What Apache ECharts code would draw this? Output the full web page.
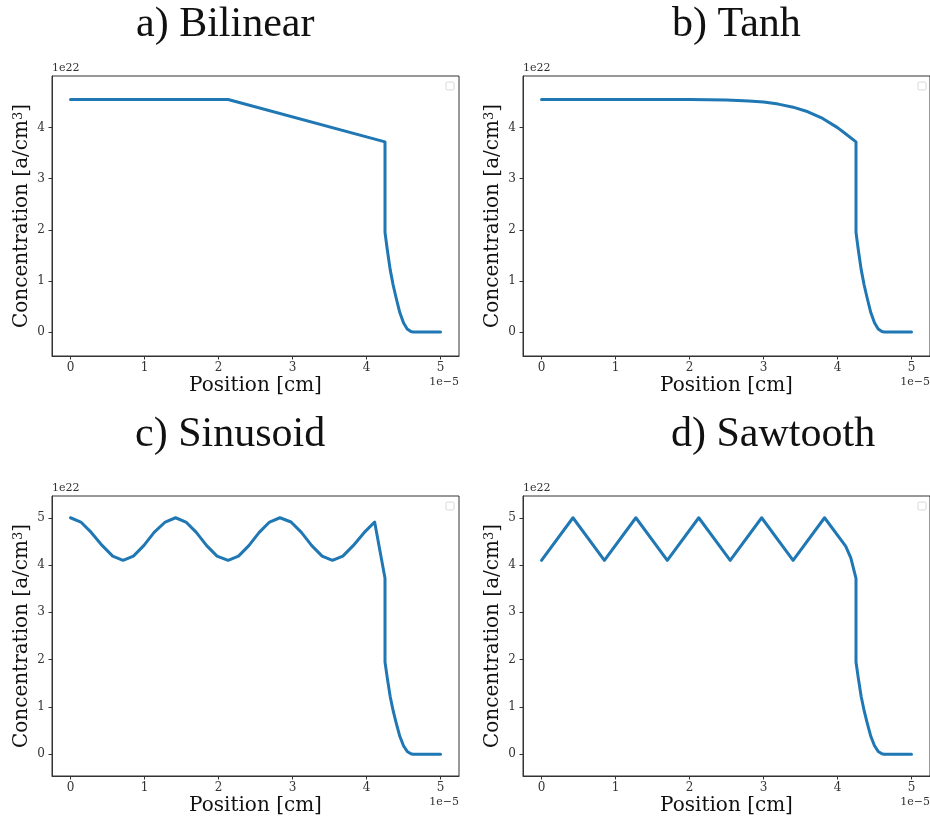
<!DOCTYPE html>
<html>
<head>
<meta charset="utf-8">
<script src="https://cdn.jsdelivr.net/npm/echarts@6/dist/echarts.min.js"></script>
<style>
html,body{margin:0;padding:0;background:#fff;}
#chart{width:930px;height:820px;}
</style>
</head>
<body>
<div id="chart"></div>
<script>
// ---- data (x in units of 1e-5 cm, y in units of 1e22 a/cm^3) ----
const panelTitles = ['a) Bilinear', 'b) Tanh', 'c) Sinusoid', 'd) Sawtooth'];
const xTickLabels = [0, 1, 2, 3, 4, 5];
const yTicksTop = [0, 1, 2, 3, 4];
const yTicksBottom = [0, 1, 2, 3, 4, 5];

// shared diffusion tail after the step at x = 4.25
const tailX = [4.25, 4.25, 4.28, 4.32, 4.36, 4.40, 4.45, 4.50, 4.55, 4.60, 4.63, 5.00];
const tailY = [3.72, 1.95, 1.62, 1.22, 0.92, 0.67, 0.38, 0.18, 0.06, 0.01, 0.00, 0.00];

const bilinearX = [0, 2.13];
const bilinearY = [4.55, 4.55];

const tanhX = [0, 2.0, 2.5, 2.8, 3.0, 3.2, 3.4, 3.6, 3.8, 4.0, 4.1];
const tanhY = [4.55, 4.55, 4.54, 4.52, 4.50, 4.46, 4.40, 4.31, 4.18, 4.00, 3.89];

const sinusoidX = [0, 0.14, 0.28, 0.43, 0.57, 0.71, 0.85, 0.99, 1.13, 1.28, 1.42, 1.56, 1.70, 1.84, 1.98,
                   2.13, 2.27, 2.41, 2.55, 2.69, 2.83, 2.98, 3.12, 3.26, 3.40, 3.54, 3.68, 3.82, 3.97, 4.11];
const sinusoidY = [5.00, 4.91, 4.69, 4.41, 4.19, 4.10, 4.19, 4.41, 4.69, 4.91, 5.00, 4.91, 4.69, 4.41, 4.19,
                   4.10, 4.19, 4.41, 4.69, 4.91, 5.00, 4.91, 4.69, 4.41, 4.19, 4.10, 4.19, 4.41, 4.69, 4.91];

const sawtoothX = [0, 0.425, 0.85, 1.275, 1.70, 2.125, 2.55, 2.975, 3.40, 3.825, 4.11, 4.18];
const sawtoothY = [4.10, 5.00, 4.10, 5.00, 4.10, 5.00, 4.10, 5.00, 4.10, 5.00, 4.40, 4.15];

const xRange = [-0.25, 5.25];
const yRangeTop = [-0.47, 5.01];
const yRangeBottom = [-0.46, 5.46];

function pairs(xs, ys) { return xs.map((x, i) => [x, ys[i]]); }
const seriesData = [
  pairs(bilinearX.concat(tailX), bilinearY.concat(tailY)),
  pairs(tanhX.concat(tailX), tanhY.concat(tailY)),
  pairs(sinusoidX.concat(tailX), sinusoidY.concat(tailY)),
  pairs(sawtoothX.concat(tailX), sawtoothY.concat(tailY))
];

// ---- layout ----
const grids = [
  {left: 52, top: 76, width: 407, height: 280},
  {left: 523, top: 76, width: 408, height: 280},
  {left: 52, top: 496, width: 407, height: 280},
  {left: 523, top: 496, width: 408, height: 280}
];
const titlePos = [[136, 37], [672, 37], [135, 447], [671, 447]];

const serif = 'DejaVu Serif';
const tickColor = '#333';

const option = {
  animation: false,
  backgroundColor: '#fff',
  grid: grids.map(g => Object.assign({show: true, borderColor: '#333', borderWidth: 1, containLabel: false}, g)),
  xAxis: grids.map((g, i) => ({
    type: 'value', gridIndex: i, min: xRange[0], max: xRange[1],
    name: 'Position [cm]', nameLocation: 'middle', nameGap: 20,
    nameTextStyle: {fontFamily: serif, fontSize: 20, color: '#111'},
    axisLine: {show: true, onZero: false, lineStyle: {color: '#333', width: 1}},
    axisTick: {show: true, length: 3.5, lineStyle: {color: tickColor}, customValues: xTickLabels},
    axisLabel: {show: true, margin: 6, fontFamily: serif, fontSize: 12, color: '#333', customValues: xTickLabels},
    splitLine: {show: false}
  })),
  yAxis: grids.map((g, i) => {
    const top = i < 2;
    const ticks = top ? yTicksTop : yTicksBottom;
    const r = top ? yRangeTop : yRangeBottom;
    return {
      type: 'value', gridIndex: i, min: r[0], max: r[1],
      name: '{n|Concentration [a/cm}{s|3}{n|]}', nameLocation: 'middle', nameGap: 20, nameRotate: 90,
      nameTextStyle: {
        fontFamily: serif, fontSize: 20, color: '#111',
        rich: {
          n: {fontFamily: serif, fontSize: 20, color: '#111'},
          s: {fontFamily: serif, fontSize: 13, color: '#111', verticalAlign: 'top', padding: [0, 0, 6, 0]}
        }
      },
      axisLine: {show: true, onZero: false, lineStyle: {color: '#333', width: 1}},
      axisTick: {show: true, length: 3.5, lineStyle: {color: tickColor}, customValues: ticks},
      axisLabel: {show: true, margin: 7, fontFamily: serif, fontSize: 12, color: '#333', customValues: ticks},
      splitLine: {show: false}
    };
  }),
  series: seriesData.map((d, i) => ({
    type: 'line', xAxisIndex: i, yAxisIndex: i, data: d,
    showSymbol: false, symbol: 'none', smooth: false,
    lineStyle: {color: '#1f77b4', width: 3, cap: 'round', join: 'round'},
    z: 3
  })),
  graphic: []
};

panelTitles.forEach((t, i) => {
  option.graphic.push({
    type: 'text', left: titlePos[i][0], top: titlePos[i][1] - 33,
    style: {text: t, fontFamily: 'Liberation Serif', fontSize: 42, fill: '#111'}
  });
});
grids.forEach((g, i) => {
  option.graphic.push({
    type: 'text', x: g.left, y: g.top - 2,
    style: {text: '1e22', fontFamily: serif, fontSize: 11, fill: '#333', align: 'left', verticalAlign: 'bottom'}
  });
  option.graphic.push({
    type: 'text', x: Math.min(g.left + g.width, 930), y: g.top + g.height + 26,
    style: {text: '1e\u22125', fontFamily: serif, fontSize: 11, fill: '#333', align: 'right', verticalAlign: 'middle'}
  });
  option.graphic.push({
    type: 'rect', shape: {x: g.left + g.width - 13, y: g.top + 6, width: 8, height: 8, r: 1.5},
    style: {fill: 'none', stroke: '#d8d8d8', lineWidth: 1}
  });
});

const chart = echarts.init(document.getElementById('chart'), null, {renderer: 'canvas'});
chart.setOption(option);
</script>
</body>
</html>
